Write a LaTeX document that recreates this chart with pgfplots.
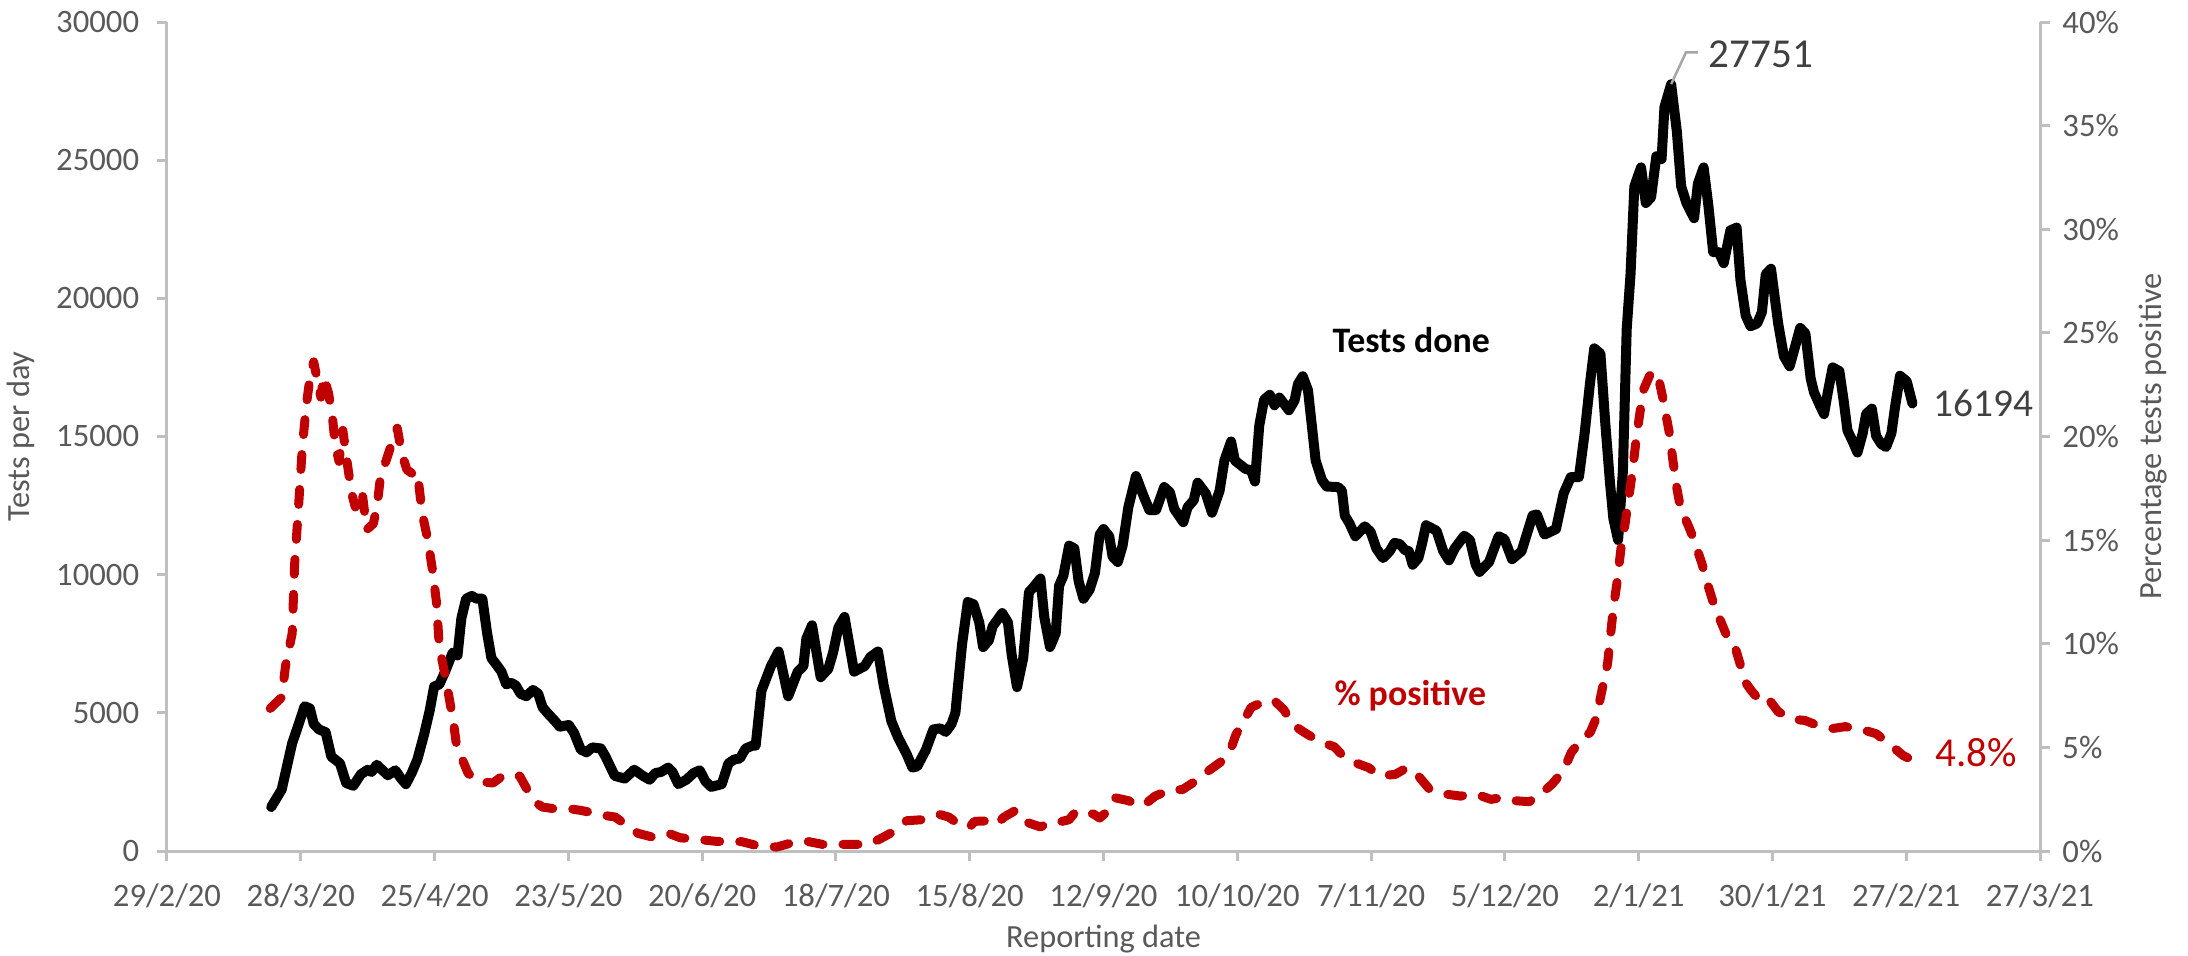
\documentclass[border=0pt]{standalone}
\usepackage{fontspec}
\setmainfont{Carlito}
\usepackage{pgfplots}
\usepackage{pgfplotstable}
\pgfplotsset{compat=1.18}
\definecolor{axgray}{HTML}{BFBFBF}
\definecolor{tickgray}{HTML}{595959}
\definecolor{lblgray}{HTML}{404040}
\definecolor{leadgray}{HTML}{A6A6A6}
\definecolor{redline}{HTML}{C00000}

\pgfplotstableread{
day val
21.8 1590
24 2220
26.2 3900
27.5 4560
28.8 5240
29.9 5160
30.7 4600
31.8 4400
33.2 4300
34.4 3410
35.2 3310
36.2 3170
37.5 2460
39 2360
40.6 2780
42 2940
42.8 2860
43.9 3120
45 2940
46.2 2740
47.8 2920
49 2620
50 2420
51.2 2820
52.4 3310
53.8 4210
55 5100
55.9 5950
57 6030
58.2 6490
59.8 7180
60.8 7080
61.6 8410
62.6 9130
63.8 9230
64.8 9130
66 9130
67 7880
67.9 6980
69 6730
70 6490
71 6030
72 6090
73 5990
74 5690
75.2 5600
76.6 5830
77.7 5690
78.6 5200
79.8 4960
81 4740
82.2 4500
84.1 4560
85.2 4270
86.6 3670
87.8 3570
89 3750
90.8 3710
91.8 3410
93.7 2720
95.8 2620
97.8 2940
99.6 2720
101 2580
102.2 2820
103.4 2860
104.9 3020
105.8 2860
107 2420
108.7 2580
110.2 2820
111.5 2920
112.7 2520
113.9 2320
116.1 2420
117.5 3170
118.7 3310
119.9 3350
121.1 3710
122.5 3810
123.2 3810
124.4 5790
126.4 6690
128 7220
130 5600
132 6490
133.2 6690
133.8 7680
135 8170
136.8 6290
138.4 6590
139.4 7180
140.5 8080
141.8 8470
143.8 6490
146 6690
147.2 7020
148.8 7220
150 5990
151.6 4700
153 4110
154.8 3510
156 3020
157 3060
158.8 3650
160.4 4400
161.8 4440
163 4310
164.2 4600
165 5000
166.4 7480
167.6 9010
168.8 8930
170 8270
170.8 7380
172 7620
172.8 8130
174.8 8610
176 8270
176.8 7080
177.9 5930
179.2 6980
180.4 9370
181.2 9520
182.8 9860
183.6 8470
184.8 7380
186 7880
186.7 9600
187.6 9960
188.8 11050
189.9 10950
190.8 9760
191.8 9130
193.1 9460
194.2 10060
195.2 11450
196 11650
197.2 11390
197.9 10650
199 10460
200 11050
201.2 12440
202.8 13570
204.4 12840
205.6 12340
207 12340
208.7 13170
209.9 12980
210.8 12380
212.7 11900
213.6 12440
214.9 12700
215.7 13330
217.4 12940
218.7 12240
220.3 13040
221.3 14130
222.7 14820
223.5 14130
225.7 13830
226.9 13770
227.7 13370
228.6 15400
229.6 16330
230.8 16510
231.8 16130
232.8 16410
234.8 15950
236 16310
236.7 16900
237.7 17180
238.8 16670
240.4 14130
241.7 13430
242.7 13190
245.1 13170
245.9 13040
246.5 12140
247.5 11850
248.7 11390
250.7 11750
251.9 11550
253.1 10950
254.5 10600
255.9 10850
256.9 11150
258 11110
259.1 10890
259.9 10850
260.7 10360
261.9 10600
262.7 11150
263.5 11790
265.7 11590
267.1 10850
268.3 10520
269.5 10950
271.5 11410
272.7 11250
273.9 10360
274.7 10100
276.7 10460
278.7 11390
279.9 11290
281.5 10560
283.5 10850
285.8 12140
286.7 12180
288.3 11450
289.5 11550
290.7 11650
292.3 12940
293.8 13530
295.5 13530
296.7 15120
297.8 16900
298.7 18190
300 18000
301 15520
302 13330
302.7 12040
303.7 11250
304.7 13730
305.5 18890
306.3 20870
307.1 24050
308.5 24740
309.5 23450
310.6 23650
311.7 25140
312.8 25040
313.4 26920
314.8 27751
316 26030
316.9 24050
318 23450
319.6 22900
320.4 24150
321.6 24740
322.6 23350
323.6 21670
324.8 21670
325.8 21270
327.2 22460
328.5 22560
329.3 20670
330.4 19380
331.4 18990
332.8 19090
333.8 19500
334.6 20870
335.7 21070
337.2 19090
338.4 17900
339.6 17540
340.8 18290
341.8 18930
342.9 18730
344 17100
344.7 16600
345.7 16210
346.8 15810
347.6 16610
348.6 17500
350 17370
350.9 16310
351.7 15220
352.8 14820
353.8 14420
354.9 15120
355.6 15810
356.8 16010
357.7 15020
358.8 14720
359.8 14620
360.9 15120
361.7 16110
362.7 17200
364.1 17000
365.3 16194
}\tests

\pgfplotstableread{
day val
21.6 6.88
24 7.41
24.8 8.92
26.2 10.5
26.7 13.8
27.5 16.5
28.3 19.4
29.1 21.4
29.9 22.8
30.7 23.6
31.4 22.8
32.2 21.9
32.8 22.9
33.8 22.1
34.6 21.0
35.2 19.6
36 18.8
36.8 20.3
37.8 18.6
38.6 17.3
39.4 16.6
40.8 17.4
41.8 15.5
43.2 15.8
44 16.7
44.6 17.9
45.8 18.8
46.8 19.5
48.2 20.4
49.1 19.2
50.2 18.4
51.4 18.2
52.4 18.3
53.4 16.3
54.6 15.0
55.6 13.5
56.4 12.0
57 9.84
58.2 8.5
59 7.46
60 6.14
60.6 5.08
61.8 4.42
63 3.76
65 3.36
68.2 3.28
69.8 3.55
71.4 3.44
73.8 3.62
75.4 2.96
77.4 2.30
78.6 2.12
81 2.04
84.2 2.04
86.6 1.96
89 1.85
91.4 1.72
93.8 1.64
96.2 1.24
98.6 0.85
101.8 0.66
105 0.85
107.4 0.64
111.5 0.55
114.8 0.47
117 0.45
120.3 0.45
123.5 0.26
127.6 0.19
131.6 0.45
133.2 0.50
137.2 0.32
142 0.32
146.8 0.32
149.2 0.58
152.4 0.98
154.8 1.46
158 1.51
161.6 1.77
163.6 1.64
166 1.24
168 1.16
169 1.43
172.4 1.46
173.6 1.30
175.2 1.64
177.6 1.96
180 1.38
182.8 1.16
184.8 1.38
186.4 1.38
188.8 1.51
190 1.85
191.2 1.96
194 1.77
195.2 1.59
196.8 1.91
198.4 2.57
201.2 2.43
203.6 2.17
205.2 2.35
206.8 2.65
210 2.96
212.5 2.96
215.7 3.44
218.1 3.89
220.5 4.29
222.5 4.82
223.7 5.61
224.9 6.09
226.9 6.93
229.2 7.17
231.6 7.29
233.8 6.80
235.6 6.10
237.9 5.74
241.1 5.29
244.3 5.03
246.3 4.55
248.3 4.29
251.5 4.02
253.9 3.62
257.1 3.70
259.5 4.02
261.9 3.62
264.3 2.96
267.5 2.75
270.7 2.65
273.9 2.75
277.1 2.49
279.1 2.57
281.9 2.43
285.1 2.38
287.5 2.75
289.9 3.23
292.3 3.89
293.9 4.76
295.5 5.21
297.9 5.74
299.1 6.40
300.3 7.73
301.5 9.05
302.7 11.7
303.5 13.0
304.3 14.6
305.1 15.7
305.9 17.0
306.7 18.3
307.5 19.9
308.3 21.2
309.1 22.3
310.6 23.1
312 23.0
313.2 21.7
314.4 20.2
315.2 18.8
316 17.5
316.8 16.5
318.4 15.7
319.6 15.0
321.2 13.9
322.4 12.9
323.6 12.0
324.8 11.3
326.4 10.4
328 9.98
329.2 9.05
330.4 8.12
331.6 7.73
333.6 7.20
335.2 7.33
337.2 6.72
340.4 6.35
342.8 6.30
345 6.10
348.3 5.90
351.2 6.00
354.6 5.87
357.7 5.66
360.2 5.21
363.4 4.60
364.3 4.50
}\positive

\pgfplotsset{
  common/.style={
    scale only axis, width=187.3mm, height=82.9mm,
    at={(0,0)}, anchor=south west,
    xmin=0, xmax=392, clip=false,
    axis line style={axgray, line width=0.3mm},
    major tick length=1mm, tick align=outside,
    tick style={axgray, line width=0.3mm},
    ticklabel style={font=\fontsize{9.3}{11}\selectfont, text=tickgray},
    yticklabel style={inner ysep=0pt},
    label style={font=\fontsize{9.2}{11}\selectfont, text=tickgray},
  }
}

\begin{document}
\begin{tikzpicture}
\path[use as bounding box] (-16.7mm,-10.4mm) rectangle (202.1mm,85.1mm);
\begin{axis}[common,
  ymin=0, ymax=30000,
  axis y line*=left, axis x line*=bottom,
  xtick={0,28,...,392},
  xticklabels={29/2/20,28/3/20,25/4/20,23/5/20,20/6/20,18/7/20,15/8/20,12/9/20,10/10/20,7/11/20,5/12/20,2/1/21,30/1/21,27/2/21,27/3/21},
  xticklabel style={yshift=-1mm},
  ytick={0,5000,10000,15000,20000,25000,30000},
  yticklabels={0,5000,10000,15000,20000,25000,30000},
  yticklabel style={xshift=-0.55mm},
  xlabel={Reporting date},
  ylabel={Tests per day},
  xlabel style={at={(axis description cs:0.5,-0.1062)}, anchor=center},
  ylabel style={at={(axis description cs:-0.0779,0.5)}, anchor=center},
]
\addplot[black, line width=1mm, line join=round, line cap=round] table[x=day,y=val]{\tests};
\draw[leadgray, line width=0.25mm] (axis cs:314.8,27751) -- (axis cs:317.9,28900) -- (axis cs:320.4,28900);
\node[anchor=base west, inner sep=0pt, text=lblgray, font=\fontsize{11.7}{14}\selectfont] at (axis cs:322.5,28370) {27751};
\node[anchor=base west, inner sep=0pt, text=lblgray, font=\fontsize{11.2}{14}\selectfont] at (axis cs:369.6,15710) {16194};
\node[anchor=base west, inner sep=0pt, text=redline, font=\fontsize{11.7}{14}\selectfont] at (axis cs:370,3040) {4.8\%};
\node[anchor=base west, inner sep=0pt, text=black, font=\bfseries\fontsize{10.2}{12}\selectfont] at (axis cs:243.8,18023) {Tests done};
\node[anchor=base west, inner sep=0pt, text=redline, font=\bfseries\fontsize{10.2}{12}\selectfont] at (axis cs:244.2,5281) {\% positive};
\end{axis}
\begin{axis}[common,
  ymin=0, ymax=40,
  axis y line*=right, axis x line=none,
  xtick=\empty,
  ytick={0,5,10,15,20,25,30,35,40},
  yticklabels={0\%,5\%,10\%,15\%,20\%,25\%,30\%,35\%,40\%},
  ylabel={Percentage tests positive},
  ylabel style={at={(axis description cs:1.0603,0.5)}, anchor=center},
]
\addplot[redline, line width=0.9mm, dash pattern=on 1.5mm off 2mm, line cap=round, line join=round] table[x=day,y=val]{\positive};
\end{axis}
\end{tikzpicture}
\end{document}
